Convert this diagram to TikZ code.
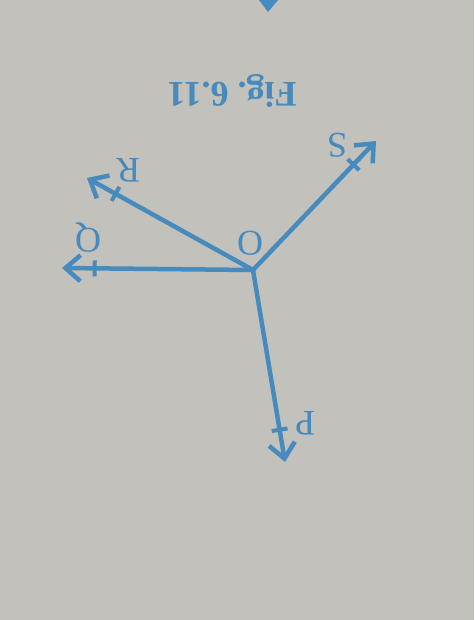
\documentclass[tikz,border=0pt]{standalone}
\usepackage{fontspec}
\setmainfont{Liberation Serif}
\usetikzlibrary{arrows.meta}
\definecolor{paper}{RGB}{194,193,187}
\definecolor{ink}{RGB}{70,138,190}
\tikzset{
  vec/.style={draw=ink,line width=4.5pt,
    -{Bar[width=16pt,line width=4pt,sep=10pt]Straight Barb[length=15pt,width=26pt,line width=4.5pt]}},
  lbl/.style={text=ink,rotate=180,font=\fontsize{36}{36}\selectfont,inner sep=0pt}
}
\begin{document}
\begin{tikzpicture}[x=1pt,y=-1pt]
  \fill[paper] (0,0) rectangle (474,620);
  \useasboundingbox (0,0) rectangle (474,620);
  % upturned page: fig. 6.11
  \coordinate (O) at (253,270);
  \coordinate (P) at (285,462);
  \coordinate (Q) at (62,268);
  \coordinate (R) at (87,178);
  \coordinate (S) at (376,141);
  \foreach \t in {P,Q,R,S}
    \draw[vec] (O) -- (\t);
  \node[lbl] (lO) at (250,243) {O};
  \node[lbl] (lP) at (305,423) {P};
  \node[lbl] (lQ) at (88,238) {Q};
  \node[lbl] (lR) at (128,170) {R};
  \node[lbl] (lS) at (337,145) {S};
  \node[lbl,anchor=base,font=\fontsize{36}{36}\selectfont\bfseries] (cap) at (232,83) {Fig.~6.11};
  % tip of the figure above
  \fill[ink] (259,0) -- (278,0) -- (268,12) -- cycle;
\end{tikzpicture}
\end{document}
